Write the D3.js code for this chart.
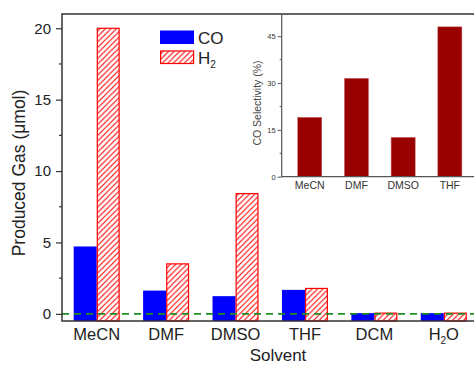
<!DOCTYPE html>
<html>
<head>
<meta charset="utf-8">
<script src="https://cdn.jsdelivr.net/npm/d3@7"></script>
<style>
  html, body { margin: 0; padding: 0; background: #fff; }
  svg { display: block; font-family: "Liberation Sans", Arial, sans-serif; }
</style>
</head>
<body>
<svg id="chart" width="474" height="366"></svg>
<script>
// main chart data
const solvents = ["MeCN", "DMF", "DMSO", "THF", "DCM", "H2O"];
const coValues = [4.72, 1.63, 1.24, 1.68, 0.05, 0.05];
const h2Values = [20.0, 3.5, 8.42, 1.78, 0.05, 0.05];
const yTicks = [0, 5, 10, 15, 20];
const yMinorTicks = [2.5, 7.5, 12.5, 17.5];

// inset data
const insetSolvents = ["MeCN", "DMF", "DMSO", "THF"];
const selectivity = [19.0, 31.5, 12.6, 48.0];
const insetTicks = [0, 15, 30, 45];
const insetMinorTicks = [7.5, 22.5, 37.5];

const svg = d3.select("#chart");
const axisColor = "#333";

const defs = svg.append("defs");
const hatch = defs.append("pattern")
  .attr("id", "hatch")
  .attr("patternUnits", "userSpaceOnUse")
  .attr("width", 5.5)
  .attr("height", 5.5);
hatch.append("rect").attr("width", 5.5).attr("height", 5.5).attr("fill", "#fff");
hatch.append("path")
  .attr("d", "M-1,1 L1,-1 M0,5.5 L5.5,0 M4.5,6.5 L6.5,4.5")
  .attr("stroke", "#ff0000")
  .attr("stroke-width", 1.1);

// ---- main plot ----
const mLeft = 62, mTop = 14, mBottom = 321, mRight = 478.5;

const y = d3.scaleLinear().domain([-0.5, 21]).range([mBottom, mTop]);
const x = d3.scaleBand().domain(solvents).range([mLeft, mRight])
  .paddingInner(0.337).paddingOuter(0.1685);
const xSub = d3.scaleBand().domain(["CO", "H2"]).range([0, x.bandwidth()]);

const rows = solvents.map((s, i) => ({ s, co: coValues[i], h2: h2Values[i] }));

const groups = svg.append("g").selectAll("g").data(rows).join("g")
  .attr("transform", d => `translate(${x(d.s)},0)`);

groups.append("rect")
  .attr("x", xSub("CO"))
  .attr("width", xSub.bandwidth())
  .attr("y", d => y(d.co))
  .attr("height", d => y(-0.5) - y(d.co))
  .attr("fill", "#0000ff");

groups.append("rect")
  .attr("x", xSub("H2") + 0.6)
  .attr("width", xSub.bandwidth() - 1.2)
  .attr("y", d => y(d.h2))
  .attr("height", d => y(-0.5) - y(d.h2))
  .attr("fill", "url(#hatch)")
  .attr("stroke", "#ff0000")
  .attr("stroke-width", 1.2);

// zero reference line
svg.append("line")
  .attr("x1", mLeft).attr("x2", 474)
  .attr("y1", y(0)).attr("y2", y(0))
  .attr("stroke", "#1e8c1e")
  .attr("stroke-width", 1.6)
  .attr("stroke-dasharray", "7,5");

// frame
svg.append("path")
  .attr("d", `M474,${mTop} H${mLeft} V${mBottom} H474`)
  .attr("fill", "none")
  .attr("stroke", axisColor)
  .attr("stroke-width", 1.5);

const yAxis = svg.append("g").attr("transform", `translate(${mLeft},0)`)
  .call(d3.axisLeft(y).tickValues(yTicks).tickSize(6).tickPadding(5).tickFormat(d3.format("d")));
yAxis.select(".domain").remove();
yAxis.selectAll(".tick line").attr("stroke", axisColor).attr("stroke-width", 1.2);
yAxis.selectAll(".tick text").attr("font-size", 15).attr("fill", "#222")
  .attr("font-family", "Liberation Sans, Arial, sans-serif");

svg.append("g").selectAll("line").data(yMinorTicks).join("line")
  .attr("x1", mLeft - 3).attr("x2", mLeft)
  .attr("y1", d => y(d)).attr("y2", d => y(d))
  .attr("stroke", axisColor).attr("stroke-width", 1.2);

// x labels
const xl = svg.append("g").selectAll("text").data(solvents).join("text")
  .attr("x", d => x(d) + x.bandwidth() / 2)
  .attr("y", 340)
  .attr("text-anchor", "middle")
  .attr("font-size", 16.5)
  .attr("fill", "#222");
xl.each(function (d) {
  const t = d3.select(this);
  if (d === "H2O") {
    t.append("tspan").text("H");
    t.append("tspan").text("2").attr("font-size", 10).attr("dy", 4);
    t.append("tspan").text("O").attr("dy", -4);
  } else {
    t.text(d);
  }
});

svg.append("text")
  .attr("x", 278).attr("y", 361)
  .attr("text-anchor", "middle")
  .attr("font-size", 17)
  .attr("fill", "#222")
  .text("Solvent");

svg.append("text")
  .attr("transform", "translate(25,173) rotate(-90)")
  .attr("text-anchor", "middle")
  .attr("font-size", 17.5)
  .attr("fill", "#222")
  .text("Produced Gas (\u03bcmol)");

// legend
const legend = svg.append("g");
legend.append("rect").attr("x", 160).attr("y", 30.5).attr("width", 34).attr("height", 13.5).attr("fill", "#0000ff");
legend.append("rect").attr("x", 160.6).attr("y", 51).attr("width", 33).attr("height", 12.5)
  .attr("fill", "url(#hatch)").attr("stroke", "#ff0000").attr("stroke-width", 1.2);
legend.append("text").attr("x", 198).attr("y", 44).attr("font-size", 17).attr("fill", "#222").text("CO");
const h2Label = legend.append("text").attr("x", 198).attr("y", 64).attr("font-size", 17).attr("fill", "#222");
h2Label.append("tspan").text("H");
h2Label.append("tspan").text("2").attr("font-size", 10).attr("dy", 4);

// ---- inset ----
const iLeft = 281.7, iTop = 15, iBottom = 176.7;
const iy = d3.scaleLinear().domain([0, 51.8]).range([iBottom, iTop]);
const ix = d3.scaleBand().domain(insetSolvents).range([286.4, 473.2])
  .paddingInner(0.485).paddingOuter(0.2425);

svg.append("g").selectAll("rect").data(insetSolvents).join("rect")
  .attr("x", d => ix(d))
  .attr("width", ix.bandwidth())
  .attr("y", (d, i) => iy(selectivity[i]))
  .attr("height", (d, i) => iBottom - iy(selectivity[i]))
  .attr("fill", "#990000")
  .attr("stroke", "#c86060")
  .attr("stroke-width", 0.5);

svg.append("path")
  .attr("d", `M${iLeft},${iTop} V${iBottom} H474`)
  .attr("fill", "none")
  .attr("stroke", "#555")
  .attr("stroke-width", 1.2);

const iAxis = svg.append("g").attr("transform", `translate(${iLeft},0)`)
  .call(d3.axisLeft(iy).tickValues(insetTicks).tickSize(4).tickPadding(2));
iAxis.select(".domain").remove();
iAxis.selectAll(".tick line").attr("stroke", "#555");
iAxis.selectAll(".tick text").attr("font-size", 7.5).attr("fill", "#333")
  .attr("font-family", "Liberation Sans, Arial, sans-serif");

svg.append("g").selectAll("line").data(insetMinorTicks).join("line")
  .attr("x1", iLeft - 2).attr("x2", iLeft)
  .attr("y1", d => iy(d)).attr("y2", d => iy(d))
  .attr("stroke", "#555");

svg.append("g").selectAll("text").data(insetSolvents).join("text")
  .attr("x", d => ix(d) + ix.bandwidth() / 2)
  .attr("y", 189)
  .attr("text-anchor", "middle")
  .attr("font-size", 10.5)
  .attr("fill", "#333")
  .text(d => d);

svg.append("text")
  .attr("transform", "translate(261,103) rotate(-90)")
  .attr("text-anchor", "middle")
  .attr("font-size", 10.5)
  .attr("fill", "#444")
  .text("CO Selectivity (%)");
</script>
</body>
</html>
